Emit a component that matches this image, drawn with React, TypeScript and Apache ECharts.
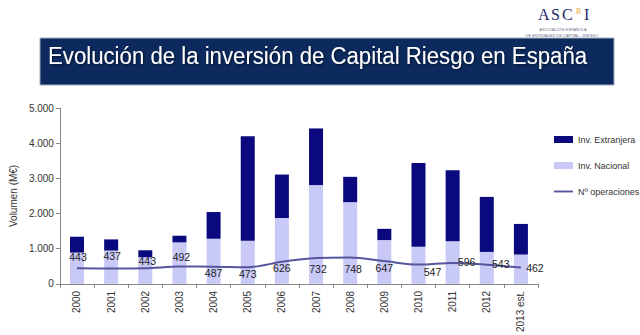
import React, { useEffect, useRef } from "react";
import * as echarts from "echarts";

const years = ["2000", "2001", "2002", "2003", "2004", "2005", "2006", "2007", "2008", "2009", "2010", "2011", "2012", "2013 est."];
const nacional = [890, 946, 758, 1180, 1283, 1227, 1873, 2809, 2322, 1245, 1058, 1208, 908, 833];
const total = [1340, 1264, 955, 1368, 2042, 4195, 3108, 4419, 3043, 1564, 3436, 3230, 2472, 1704];
const extranjera = total.map((t, i) => t - nacional[i]);
const operaciones = [443, 437, 443, 492, 487, 473, 626, 732, 748, 647, 547, 596, 543, 462];
const labelOffsets: [number, number][] = [
  [1, -11], [1, -12], [2, -7], [2, -10], [0, 6], [0, 7], [0, 6],
  [2, 11], [3, 11], [0, 7], [14, 7], [14, -1], [14, -1], [14, 0],
];
const yTicks = ["0", "1.000", "2.000", "3.000", "4.000", "5.000"];

const NAVY = "#0a0a7e";
const LAV = "#c9c9f7";
const LINE = "#56569e";
const SANS = "'Liberation Sans', Arial, sans-serif";
const LOGO_FONT = "16px 'Liberation Serif', serif";

export default function App() {
  const ref = useRef<HTMLDivElement>(null);
  useEffect(() => {
    document.body.style.margin = "0";
    const chart = echarts.init(ref.current!, null, { renderer: "svg" });
    chart.setOption({
      animation: false,
      backgroundColor: "#ffffff",
      textStyle: { fontFamily: SANS },
      graphic: [
        {
          type: "rect",
          shape: { x: 40, y: 38, width: 574, height: 47 },
          style: { fill: "#0c2a5e", stroke: "#a3abc0", lineWidth: 1 },
        },
        {
          type: "text",
          x: 48,
          y: 62,
          scaleY: 1.1,
          originY: 62,
          style: {
            text: "Evolución de la inversión de Capital Riesgo en España",
            fill: "#ffffff",
            font: "22.2px 'Liberation Sans', Arial, sans-serif",
            textVerticalAlign: "middle",
            textShadowColor: "rgba(0,0,0,0.6)",
            textShadowBlur: 2,
            textShadowOffsetX: 1,
            textShadowOffsetY: 1,
          },
        },
        { type: "text", x: 538, y: 22, style: { text: "A", fill: "#1b2a6b", font: LOGO_FONT, textVerticalAlign: "bottom" } },
        { type: "text", x: 551, y: 22, style: { text: "S", fill: "#1b2a6b", font: LOGO_FONT, textVerticalAlign: "bottom" } },
        { type: "text", x: 562, y: 22, style: { text: "C", fill: "#1b2a6b", font: LOGO_FONT, textVerticalAlign: "bottom" } },
        { type: "text", x: 576, y: 15, style: { text: "R", fill: "#f0a53a", font: "8px 'Liberation Serif', serif", textVerticalAlign: "bottom" } },
        { type: "text", x: 584, y: 22, style: { text: "I", fill: "#1b2a6b", font: LOGO_FONT, textVerticalAlign: "bottom" } },
        {
          type: "text",
          x: 563,
          y: 29.5,
          style: { text: "ASOCIACIÓN ESPAÑOLA", fill: "#6a6f8a", font: "4px 'Liberation Sans', sans-serif", textAlign: "center", textVerticalAlign: "middle" },
        },
        {
          type: "text",
          x: 562,
          y: 35,
          style: { text: "DE ENTIDADES DE CAPITAL - RIESGO", fill: "#6a6f8a", font: "4px 'Liberation Sans', sans-serif", textAlign: "center", textVerticalAlign: "middle" },
        },
      ],
      legend: {
        orient: "vertical",
        left: 549,
        top: 130,
        itemWidth: 19,
        itemHeight: 7,
        itemGap: 17,
        textStyle: { fontSize: 9, color: "#333", fontFamily: SANS },
        data: [
          { name: "Inv. Extranjera", icon: "rect" },
          { name: "Inv. Nacional", icon: "rect" },
          { name: "Nº operaciones", icon: "path://M0,0 H20 V2 H0 Z", itemStyle: { color: LINE } },
        ],
      },
      grid: { left: 58, right: 102, top: 108, bottom: 50 },
      xAxis: {
        type: "category",
        data: years,
        boundaryGap: true,
        axisLine: { lineStyle: { color: "#888" } },
        axisTick: { show: true, interval: 0, alignWithLabel: false, length: 4, lineStyle: { color: "#888" } },
        axisLabel: { rotate: 90, interval: 0, fontSize: 10, color: "#333", margin: 7, fontFamily: SANS },
      },
      yAxis: {
        type: "value",
        min: 0,
        max: 5000,
        interval: 1000,
        name: "Volumen (M€)",
        nameLocation: "middle",
        nameGap: 36,
        nameTextStyle: { fontSize: 10, color: "#333", fontFamily: SANS },
        axisLine: { show: true, lineStyle: { color: "#888" } },
        axisTick: { show: true, length: 4, lineStyle: { color: "#888" } },
        splitLine: { show: false },
        axisLabel: {
          fontSize: 10,
          color: "#333",
          margin: 6,
          fontFamily: SANS,
          formatter: (v: number) => yTicks[Math.round(v / 1000)],
        },
      },
      series: [
        {
          name: "Inv. Nacional",
          type: "bar",
          stack: "inv",
          barWidth: 14,
          itemStyle: { color: LAV },
          data: nacional,
        },
        {
          name: "Inv. Extranjera",
          type: "bar",
          stack: "inv",
          barWidth: 14,
          itemStyle: { color: NAVY },
          data: extranjera,
        },
        {
          name: "Nº operaciones",
          type: "line",
          smooth: 0.3,
          symbol: "circle",
          symbolSize: 0.1,
          lineStyle: { color: LINE, width: 2 },
          itemStyle: { color: LINE },
          z: 5,
          data: operaciones.map((v, i) => ({
            value: v,
            label: {
              show: true,
              position: "inside",
              offset: labelOffsets[i],
              fontSize: 10.5,
              color: "#222",
              fontFamily: SANS,
              formatter: String(v),
            },
          })),
        },
      ],
    });
    return () => chart.dispose();
  }, []);
  return <div ref={ref} style={{ width: 640, height: 335 }} />;
}
